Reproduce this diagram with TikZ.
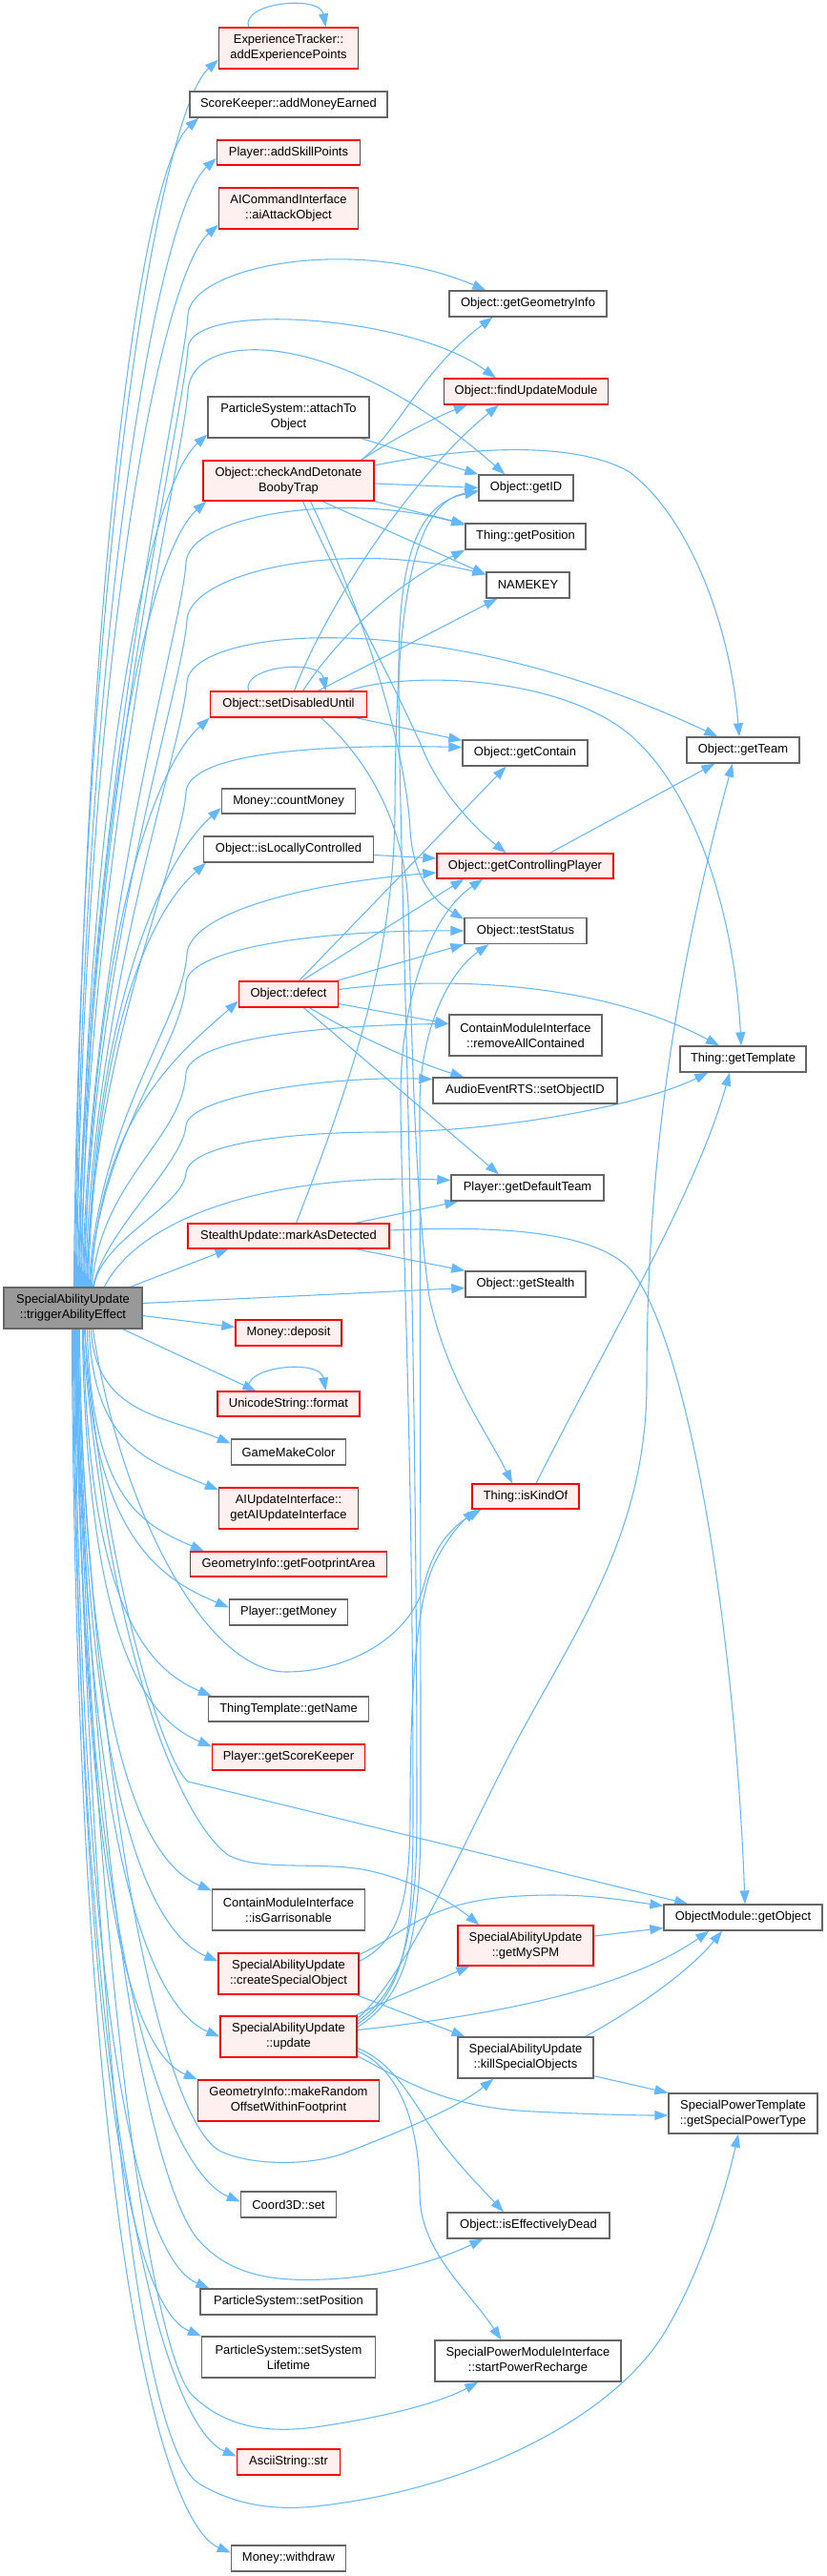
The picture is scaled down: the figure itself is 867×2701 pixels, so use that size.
\documentclass[tikz,border=0pt]{standalone}
\usepackage{fontspec}
\setmainfont{Liberation Sans}
\usetikzlibrary{arrows.meta,calc,backgrounds}
\definecolor{edgeblue}{HTML}{63B8FF}
\definecolor{boxgray}{HTML}{666666}
\definecolor{redfill}{HTML}{FFF0F0}
\definecolor{srcfill}{HTML}{999999}
\newcommand\nf{\fontsize{9.7}{12}\selectfont}
\newcommand\bx[6]{\node[#1,minimum width=#4*0.75pt,minimum height=#5*0.75pt] (#2) at (#3) {#6};}
\newcommand\edgeUp[2]{\draw[cedge] let \p1=([shift={(#1,0)}]S.north west), \p2=(#2) in (\p1) .. controls (\x1+6pt,{\y1+0.6*(\y2-\y1)}) and (\x2-45pt,\y2-40pt) .. (\p2);}
\newcommand\edgeDn[2]{\draw[cedge] let \p1=([shift={(#1,0)}]S.south west), \p2=(#2) in (\p1) .. controls (\x1+4pt,{\y1+0.75*(\y2-\y1)}) and (\x2-52pt,\y2+22pt) .. (\p2);}
\newcommand\selfloop[1]{\draw[cedge] ([shift={(-42,0)}]#1.north) .. controls +(-8,-26) and +(-6,-34) .. ([shift={(39,0)}]#1.north);}
\tikzset{
  box/.style={draw=boxgray, fill=white, line width=1pt, inner xsep=1pt, inner ysep=0pt, align=center, font=\nf},
  rbox/.style={box, draw=red, fill=redfill},
  sbox/.style={box, fill=srcfill},
  cedge/.style={draw=edgeblue, line width=0.8pt, -{Triangle[length=10.5pt,width=7.5pt]}}
}
\begin{document}
\begin{tikzpicture}[x=0.75pt,y=-0.75pt]
\useasboundingbox (0,0) rectangle (867,2701);
% source
\bx{sbox}{S}{76.5,1371.5}{145}{43}{SpecialAbilityUpdate\\::triggerAbilityEffect}
% column 2
\bx{rbox}{ET}{302.5,50.5}{146}{43}{ExperienceTracker::\\addExperiencePoints}
\bx{box}{SK}{302.5,109.5}{207}{27}{ScoreKeeper::addMoneyEarned}
\bx{rbox}{ASP}{302.5,160}{150}{26}{Player::addSkillPoints}
\bx{rbox}{AIC}{302.5,218.5}{146}{43}{AICommandInterface\\::aiAttackObject}
\bx{box}{PSA}{302.5,437.5}{169}{43}{ParticleSystem::attachTo\\Object}
\bx{rbox}{CAD}{302.5,504}{179}{42}{Object::checkAndDetonate\\BoobyTrap}
\bx{rbox}{SDU}{302.5,738.5}{164}{27}{Object::setDisabledUntil}
\bx{box}{CM}{302.5,840}{140}{26}{Money::countMoney}
\bx{box}{ILC}{302.5,890.5}{178}{27}{Object::isLocallyControlled}
\bx{rbox}{DEF}{302.5,1042.5}{104}{27}{Object::defect}
\bx{rbox}{MAD}{302.5,1296}{211}{26}{StealthUpdate::markAsDetected}
\bx{rbox}{MD}{302.5,1397.5}{111}{27}{Money::deposit}
\bx{rbox}{USF}{302.5,1472}{149}{26}{UnicodeString::format}
\bx{box}{GMC}{302.5,1522.5}{120}{27}{GameMakeColor}
\bx{rbox}{AIU}{302.5,1581.5}{146}{43}{AIUpdateInterface::\\getAIUpdateInterface}
\bx{rbox}{GFA}{302.5,1640}{206}{26}{GeometryInfo::getFootprintArea}
\bx{box}{PGM}{302.5,1690.5}{124}{27}{Player::getMoney}
\bx{box}{TGN}{302.5,1792}{168}{26}{ThingTemplate::getName}
\bx{rbox}{GSK}{302.5,1842.5}{160}{27}{Player::getScoreKeeper}
\bx{box}{ISG}{302.5,2002.5}{160}{43}{ContainModuleInterface\\::isGarrisonable}
\bx{rbox}{CSO}{302.5,2069.5}{147}{43}{SpecialAbilityUpdate\\::createSpecialObject}
\bx{rbox}{UPD}{302.5,2135.5}{143}{43}{SpecialAbilityUpdate\\::update}
\bx{rbox}{MRO}{302.5,2202.5}{190}{43}{GeometryInfo::makeRandom\\OffsetWithinFootprint}
\bx{box}{C3D}{302.5,2311.5}{100}{27}{Coord3D::set}
\bx{box}{PSP}{302.5,2413.5}{185}{27}{ParticleSystem::setPosition}
\bx{box}{PSL}{302.5,2471.5}{182}{43}{ParticleSystem::setSystem\\Lifetime}
\bx{rbox}{ASS}{302.5,2581.5}{108}{27}{AsciiString::str}
\bx{box}{MW}{302.5,2682.5}{120}{27}{Money::withdraw}
% column 3
\bx{box}{GGI}{553.5,318.5}{165}{27}{Object::getGeometryInfo}
\bx{rbox}{FUM}{551.5,410.5}{172}{27}{Object::findUpdateModule}
\bx{box}{GID}{551.5,511.5}{99}{27}{Object::getID}
\bx{box}{GPOS}{551,562.5}{126}{27}{Thing::getPosition}
\bx{box}{NK}{553.5,613.5}{87}{27}{NAMEKEY}
\bx{box}{GCT}{550.5,789.5}{131}{27}{Object::getContain}
\bx{rbox}{GCP}{550.5,908}{185}{26}{Object::getControllingPlayer}
\bx{box}{TS}{551,976}{128}{27}{Object::testStatus}
\bx{box}{RAC}{551,1085.5}{160}{43}{ContainModuleInterface\\::removeAllContained}
\bx{box}{SOI}{550.5,1143.5}{193}{27}{AudioEventRTS::setObjectID}
\bx{box}{PDT}{553,1245.5}{160}{27}{Player::getDefaultTeam}
\bx{box}{GST}{551,1346.5}{126}{27}{Object::getStealth}
\bx{rbox}{IKO}{551,1569}{112}{26}{Thing::isKindOf}
\bx{rbox}{MSPM}{551,2040}{142}{42}{SpecialAbilityUpdate\\::getMySPM}
\bx{box}{KSO}{551,2157.5}{142}{43}{SpecialAbilityUpdate\\::killSpecialObjects}
\bx{box}{IED}{554,2333.5}{170}{27}{Object::isEffectivelyDead}
\bx{box}{SPR}{553.5,2475.5}{195}{43}{SpecialPowerModuleInterface\\::startPowerRecharge}
% column 4
\bx{box}{GT}{779,786.5}{118}{27}{Object::getTeam}
\bx{box}{GTP}{779,1110.5}{132}{27}{Thing::getTemplate}
\bx{box}{GO}{779,2010.5}{166}{27}{ObjectModule::getObject}
\bx{box}{SPT}{779,2216}{156}{42}{SpecialPowerTemplate\\::getSpecialPowerType}

\begin{pgfonlayer}{background}
% source -> column 2, upward
\edgeUp{74}{[shift={(0,-10)}]ET.south west}
\edgeUp{75}{[shift={(10,0)}]SK.south west}
\edgeUp{76}{[shift={(0,6)}]ASP.west}
\edgeUp{77}{[shift={(0,-5)}]AIC.south west}
\edgeUp{80}{[shift={(0,-4)}]PSA.south west}
\edgeUp{82}{[shift={(4,0)}]CAD.south west}
\edgeUp{85}{SDU.south west}
\edgeUp{88}{[shift={(0,7)}]CM.west}
\edgeUp{89}{[shift={(3,0)}]ILC.south west}
\edgeUp{92}{[shift={(0,7)}]DEF.west}
% source -> upper right nodes
\draw[cedge] ([shift={(78,0)}]S.north west) .. controls (90,840) and (193,400) .. (197,330) .. controls (200,280) and (370,245) .. ([shift={(39,0)}]GGI.north west);
\draw[cedge] ([shift={(79,0)}]S.north west) .. controls (91,858) and (193,435) .. (197,365) .. controls (200,315) and (430,330) .. ([shift={(55,0)}]FUM.north west);
\draw[cedge] ([shift={(81,0)}]S.north west) .. controls (93,880) and (193,480) .. (197,410) .. controls (201,345) and (350,340) .. ([shift={(28,0)}]GID.north west);
\draw[cedge] ([shift={(83,0)}]S.north west) .. controls (95,970) and (191,660) .. (195,590) .. controls (198,540) and (360,515) .. ([shift={(0,2)}]GPOS.north west);
\draw[cedge] ([shift={(84,0)}]S.north west) .. controls (96,1000) and (192,720) .. (196,650) .. controls (199,600) and (360,565) .. ([shift={(0,3)}]NK.north west);
\draw[cedge] ([shift={(86,0)}]S.north west) .. controls (98,1032) and (192,785) .. (196,715) .. controls (200,660) and (450,630) .. ([shift={(33,0)}]GT.north west);
\draw[cedge] ([shift={(87,0)}]S.north west) .. controls (99,1090) and (191,900) .. (195,830) .. controls (199,790) and (330,780) .. ([shift={(0,-6)}]GCT.west);
\draw[cedge] ([shift={(90,0)}]S.north west) .. controls (102,1175) and (192,1070) .. (196,1000) .. controls (200,955) and (330,925) .. ([shift={(0,7)}]GCP.west);
\draw[cedge] ([shift={(91,0)}]S.north west) .. controls (103,1190) and (191,1100) .. (195,1030) .. controls (199,995) and (330,975) .. (TS.west);
\draw[cedge] ([shift={(93,0)}]S.north west) .. controls (105,1237) and (191,1195) .. (195,1125) .. controls (199,1090) and (330,1075) .. ([shift={(0,-12)}]RAC.west);
\draw[cedge] ([shift={(94,0)}]S.north west) .. controls (110,1290) and (192,1220) .. (195,1180) .. controls (198,1150) and (340,1128) .. ([shift={(0,-12)}]SOI.west);
\draw[cedge] ([shift={(95,0)}]S.north west) .. controls (105,1300) and (192,1265) .. (195,1230) .. controls (198,1200) and (300,1187) .. (400,1187) .. controls (520,1187) and (670,1160) .. ([shift={(30,0)}]GTP.south west);
\draw[cedge] ([shift={(106,0)}]S.north west) .. controls (150,1270) and (300,1230) .. ([shift={(0,-8)}]PDT.west);
\draw[cedge] ([shift={(0,-5)}]S.east) -- ([shift={(0,4)}]GST.west);
\draw[cedge] ([shift={(0,8)}]S.east) -- ([shift={(0,-6)}]MD.west);
\draw[cedge] ([shift={(-13,0)}]S.north east) -- ([shift={(-63,0)}]MAD.south);
\draw[cedge] ([shift={(-21,0)}]S.south east) -- ([shift={(41,0)}]USF.north west);
% source -> column 2, downward
\edgeDn{92}{[shift={(0,-9)}]GMC.west}
\edgeDn{90}{[shift={(0,3)}]AIU.north west}
\edgeDn{88}{[shift={(15,0)}]GFA.north west}
\edgeDn{86}{[shift={(0,-5)}]PGM.west}
\edgeDn{84}{[shift={(4,0)}]TGN.north west}
\edgeDn{83}{[shift={(0,3)}]GSK.north west}
\edgeDn{80}{[shift={(0,2)}]ISG.north west}
\edgeDn{79}{[shift={(0,9)}]CSO.north west}
\edgeDn{78}{UPD.west}
\edgeDn{77}{MRO.north west}
\edgeDn{76}{[shift={(0,-3)}]C3D.west}
\edgeDn{75}{[shift={(10,0)}]PSP.north west}
\edgeDn{74}{PSL.north west}
\edgeDn{73}{[shift={(0,-6)}]ASS.west}
\edgeDn{72}{[shift={(0,-6)}]MW.west}
% source -> lower right nodes
\draw[cedge] ([shift={(94,0)}]S.south west) .. controls (125,1580) and (215,1753) .. (300,1753) .. controls (360,1753) and (430,1720) .. (445,1660) .. controls (455,1620) and (475,1600) .. ([shift={(10,0)}]IKO.south west);
\draw[cedge] ([shift={(85,0)}]S.south west) .. controls (110,1650) and (170,1845) .. (197,1868) -- ([shift={(26,0)}]GO.north west);
\draw[cedge] ([shift={(83,0)}]S.south west) .. controls (110,1700) and (180,1900) .. (239,1945) .. controls (270,1962) and (330,1952) .. (380,1960) .. controls (440,1972) and (480,2000) .. ([shift={(23,0)}]MSPM.north west);
\draw[cedge] ([shift={(77,0)}]S.south west) .. controls (100,1900) and (170,2220) .. (230,2255) .. controls (260,2270) and (320,2272) .. (360,2258) .. controls (420,2235) and (480,2210) .. ([shift={(38,0)}]KSO.south west);
\draw[cedge] ([shift={(76,0)}]S.south west) .. controls (100,2050) and (165,2290) .. (205,2345) .. controls (240,2388) and (290,2392) .. (340,2390) .. controls (400,2388) and (460,2370) .. ([shift={(38,0)}]IED.south west);
\draw[cedge] ([shift={(75,0)}]S.south west) .. controls (100,2100) and (160,2460) .. (200,2510) .. controls (240,2550) and (290,2550) .. (330,2545) .. controls (400,2535) and (460,2520) .. ([shift={(46,0)}]SPR.south west);
\draw[cedge] ([shift={(74,0)}]S.south west) .. controls (100,2200) and (150,2570) .. (210,2605) .. controls (250,2628) and (290,2632) .. (330,2628) .. controls (500,2610) and (650,2530) .. (700,2440) .. controls (735,2380) and (760,2300) .. ([shift={(-5,0)}]SPT.south);
% self loops
\selfloop{ET}
\selfloop{SDU}
\selfloop{USF}
% attachToObject
\draw[cedge] ([shift={(-9,0)}]PSA.south east) -- (GID.north west);
% checkAndDetonateBoobyTrap
\draw[cedge] ([shift={(-14,0)}]CAD.north east) .. controls (420,450) and (440,390) .. ([shift={(-37,0)}]GGI.south);
\draw[cedge] ([shift={(-14,0)}]CAD.north east) .. controls (405,465) and (450,440) .. ([shift={(25,0)}]FUM.south west);
\draw[cedge] ([shift={(0,-16)}]CAD.east) .. controls (480,470) and (600,460) .. (660,495) .. controls (720,540) and (765,650) .. ([shift={(-4,0)}]GT.north);
\draw[cedge] ([shift={(0,3)}]CAD.east) -- (GID.west);
\draw[cedge] (CAD.south east) -- ([shift={(0,1)}]GPOS.north west);
\draw[cedge] ([shift={(35.5,0)}]CAD.south) -- ([shift={(0,3)}]NK.north west);
\draw[cedge] ([shift={(15,0)}]CAD.south) .. controls (360,620) and (420,730) .. (445,790) .. controls (465,835) and (500,870) .. ([shift={(-20,0)}]GCP.north);
\draw[cedge] ([shift={(23,0)}]CAD.south) .. controls (380,640) and (425,780) .. (430,870) .. controls (433,920) and (455,945) .. ([shift={(0,2)}]TS.north west);
% setDisabledUntil
\draw[cedge] ([shift={(6,0)}]SDU.north) .. controls (340,640) and (430,500) .. ([shift={(58,0)}]FUM.south west);
\draw[cedge] ([shift={(15,0)}]SDU.north) .. controls (360,660) and (420,610) .. (GPOS.south west);
\draw[cedge] ([shift={(31,0)}]SDU.north) -- ([shift={(12,0)}]NK.south west);
\draw[cedge] ([shift={(-20,0)}]SDU.north east) .. controls (420,705) and (580,705) .. (660,770) .. controls (730,830) and (770,960) .. ([shift={(-2,0)}]GTP.north);
\draw[cedge] ([shift={(-12,0)}]SDU.south east) -- ([shift={(0,1)}]GCT.north west);
\draw[cedge] ([shift={(34,0)}]SDU.south) .. controls (390,800) and (425,870) .. (428,950) .. controls (432,1100) and (435,1250) .. (450,1360) .. controls (470,1450) and (510,1500) .. ([shift={(-14,0)}]IKO.north);
% isLocallyControlled
\draw[cedge] ([shift={(0,6)}]ILC.east) -- ([shift={(0,-8)}]GCP.west);
% defect
\draw[cedge] ([shift={(11,0)}]DEF.north) -- ([shift={(-20,0)}]GCT.south);
\draw[cedge] ([shift={(14,0)}]DEF.north) -- ([shift={(29,0)}]GCP.south west);
\draw[cedge] ([shift={(-2,0)}]DEF.north east) -- (TS.south west);
\draw[cedge] ([shift={(0,-5)}]DEF.east) .. controls (450,1025) and (620,1025) .. ([shift={(-25,0)}]GTP.north);
\draw[cedge] ([shift={(0,10)}]DEF.east) -- ([shift={(0,-12)}]RAC.west);
\draw[cedge] ([shift={(22,0)}]DEF.south) .. controls (380,1090) and (440,1115) .. ([shift={(33,0)}]SOI.north west);
\draw[cedge] ([shift={(16,0)}]DEF.south) -- ([shift={(-30,0)}]PDT.north);
% markAsDetected
\draw[cedge] ([shift={(8,0)}]MAD.north) .. controls (370,1130) and (413,1000) .. (414,850) .. controls (415,640) and (430,528) .. ([shift={(0,3)}]GID.west);
\draw[cedge] ([shift={(-36,0)}]MAD.north east) -- ([shift={(8,0)}]PDT.south west);
\draw[cedge] ([shift={(-36,0)}]MAD.south east) -- (GST.north west);
\draw[cedge] ([shift={(0,-6)}]MAD.east) .. controls (520,1285) and (620,1290) .. (660,1330) .. controls (720,1400) and (770,1700) .. ([shift={(2,0)}]GO.north);
% getControllingPlayer, isKindOf
\draw[cedge] ([shift={(26,0)}]GCP.north) -- ([shift={(30,0)}]GT.south west);
\draw[cedge] ([shift={(11,0)}]IKO.north) .. controls (640,1400) and (730,1250) .. ([shift={(-14,0)}]GTP.south);
% update
\draw[cedge] ([shift={(-2,0)}]UPD.north east) .. controls (410,2095) and (450,2080) .. ([shift={(13,0)}]MSPM.south west);
\draw[cedge] ([shift={(0,-7)}]UPD.east) .. controls (500,2115) and (650,2090) .. ([shift={(48,0)}]GO.south west);
\draw[cedge] ([shift={(0,-2)}]UPD.south east) .. controls (430,2185) and (470,2210) .. (560,2214) .. controls (620,2217) and (670,2218) .. ([shift={(0,2)}]SPT.west);
\draw[cedge] ([shift={(0,12)}]UPD.east) .. controls (420,2165) and (440,2220) .. (470,2255) .. controls (490,2280) and (510,2300) .. ([shift={(-26,0)}]IED.north);
\draw[cedge] ([shift={(0,15)}]UPD.east) .. controls (420,2170) and (440,2230) .. (440,2300) .. controls (440,2360) and (490,2400) .. ([shift={(-28,0)}]SPR.north);
\draw[cedge] ([shift={(0,3)}]UPD.north east) .. controls (430,2070) and (500,1900) .. (550,1810) .. controls (610,1700) and (678,1600) .. (678,1450) .. controls (678,1250) and (700,1050) .. ([shift={(-11,0)}]GT.south);
\draw[cedge] ([shift={(0,6)}]UPD.north east) .. controls (425,2085) and (437,2020) .. (437,1900) .. controls (437,1300) and (418,900) .. (418,700) .. controls (418,580) and (440,527) .. ([shift={(0,4)}]GID.west);
\draw[cedge] ([shift={(0,9)}]UPD.north east) .. controls (428,2088) and (433,2020) .. (433,1900) .. controls (433,1500) and (420,1250) .. (420,1150) .. controls (420,1050) and (450,960) .. ([shift={(49,0)}]GCP.south west);
\draw[cedge] ([shift={(0,12)}]UPD.north east) .. controls (430,2092) and (441,2020) .. (441,1900) .. controls (441,1500) and (440,1250) .. (440,1160) .. controls (440,1080) and (470,1020) .. ([shift={(26,0)}]TS.south west);
% createSpecialObject
\draw[cedge] ([shift={(0,2)}]CSO.north east) .. controls (420,2030) and (440,2000) .. (520,1990) .. controls (600,1982) and (650,1992) .. ([shift={(0,2)}]GO.north west);
\draw[cedge] ([shift={(-3,0)}]CSO.south east) -- ([shift={(8,0)}]KSO.north west);
\draw[cedge] ([shift={(0,9)}]CSO.north east) .. controls (420,2035) and (430,1990) .. (430,1900) .. controls (430,1780) and (436,1680) .. (455,1640) .. controls (470,1610) and (485,1595) .. ([shift={(5,0)}]IKO.south west);
% getMySPM, killSpecialObjects
\draw[cedge] ([shift={(0,-10)}]MSPM.east) -- ([shift={(0,11)}]GO.west);
\draw[cedge] ([shift={(-9,0)}]KSO.north east) .. controls (660,2110) and (720,2070) .. ([shift={(-22,0)}]GO.south);
\draw[cedge] ([shift={(0,-3)}]KSO.south east) -- (SPT.north west);
\end{pgfonlayer}
\end{tikzpicture}
\end{document}
